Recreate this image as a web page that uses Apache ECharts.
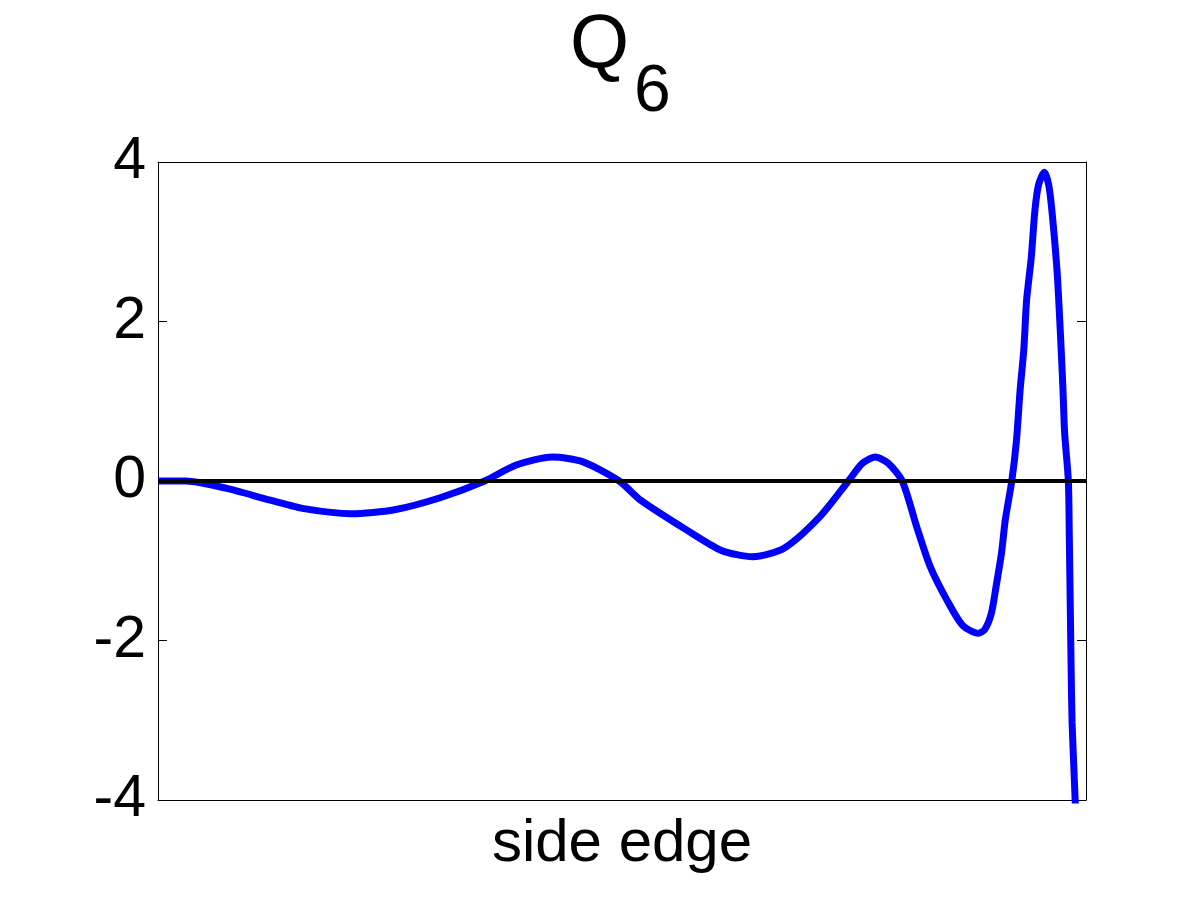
<!DOCTYPE html>
<html>
<head>
<meta charset="utf-8">
<script src="https://cdn.jsdelivr.net/npm/echarts@6/dist/echarts.min.js"></script>
<style>html,body{margin:0;padding:0;background:#fff;}#c{width:1200px;height:900px;}</style>
</head>
<body>
<div id="c"></div>
<script>
// position along the side edge (0..1)
const positions = [0, 0.030, 0.073, 0.121, 0.159, 0.208, 0.255, 0.304, 0.352, 0.386, 0.425, 0.458, 0.497, 0.520, 0.569, 0.607, 0.641, 0.675, 0.713, 0.744, 0.759, 0.773, 0.787, 0.802, 0.818, 0.832, 0.850, 0.867, 0.884, 0.891, 0.898, 0.903, 0.909, 0.913, 0.920, 0.925, 0.929, 0.933, 0.936, 0.941, 0.945, 0.949, 0.955, 0.960, 0.964, 0.969, 0.972, 0.975, 0.977, 0.981, 0.982, 0.983, 0.984, 0.985, 0.987, 0.989];
// Q6 values
const q6Values = [0, 0, -0.09, -0.24, -0.35, -0.41, -0.36, -0.21, 0, 0.20, 0.30, 0.24, 0, -0.24, -0.61, -0.87, -0.95, -0.84, -0.45, 0, 0.22, 0.30, 0.22, 0, -0.59, -1.07, -1.49, -1.81, -1.91, -1.86, -1.66, -1.33, -0.90, -0.49, 0, 0.50, 1.14, 1.65, 2.27, 2.80, 3.40, 3.72, 3.87, 3.70, 3.30, 2.60, 1.95, 1.20, 0.60, 0, -0.70, -1.53, -2.37, -3.03, -3.62, -4.20];
const yTicks = [-4, -2, 0, 2, 4];
const zeroLine = [[0, 0], [1, 0]];
const titleMain = 'Q';
const titleSub = '6';
const xLabel = 'side edge';

const data = positions.map((p, i) => [p, q6Values[i]]);
const font = 'Liberation Sans, Arial, sans-serif';

const chart = echarts.init(document.getElementById('c'));
chart.setOption({
  animation: false,
  backgroundColor: '#fff',
  grid: { left: 158, right: 114, top: 162, bottom: 100 },
  xAxis: [{
    type: 'value', min: 0, max: 1, position: 'bottom',
    axisLine: { show: true, onZero: false, lineStyle: { color: '#000', width: 1 } },
    axisTick: { show: false }, axisLabel: { show: false }, splitLine: { show: false },
    name: xLabel, nameLocation: 'middle', nameGap: 14,
    nameTextStyle: { fontSize: 60, fontFamily: font, color: '#000', verticalAlign: 'top' }
  }, {
    type: 'value', min: 0, max: 1, position: 'top',
    axisLine: { show: true, onZero: false, lineStyle: { color: '#000', width: 1 } },
    axisTick: { show: false }, axisLabel: { show: false }, splitLine: { show: false }
  }],
  yAxis: [{
    type: 'value', min: yTicks[0], max: yTicks[yTicks.length - 1], interval: 2, position: 'left',
    axisLine: { show: true, onZero: false, lineStyle: { color: '#000', width: 1 } },
    axisTick: { show: true, inside: true, length: 9, lineStyle: { color: '#000', width: 1 } },
    axisLabel: { fontSize: 59, fontFamily: font, color: '#000', margin: 12,
      formatter: v => yTicks.includes(v) ? String(v) : '' },
    splitLine: { show: false }
  }, {
    type: 'value', min: yTicks[0], max: yTicks[yTicks.length - 1], interval: 2, position: 'right',
    axisLine: { show: true, onZero: false, lineStyle: { color: '#000', width: 1 } },
    axisTick: { show: true, inside: true, length: 9, lineStyle: { color: '#000', width: 1 } },
    axisLabel: { show: false }, splitLine: { show: false }
  }],
  series: [{
    type: 'line', data: data, xAxisIndex: 0, yAxisIndex: 0,
    symbol: 'none', smooth: 0.25, clip: true,
    lineStyle: { color: '#0000ff', width: 7 },
    z: 3
  }, {
    type: 'line', data: zeroLine, xAxisIndex: 0, yAxisIndex: 0,
    symbol: 'none', silent: true,
    lineStyle: { color: '#000', width: 4 },
    z: 4
  }],
  graphic: [
    { type: 'text', left: 570, top: 8, style: { text: titleMain, font: '76px ' + font, fill: '#000' } },
    { type: 'text', left: 634, top: 60, style: { text: titleSub, font: '66px ' + font, fill: '#000' } }
  ]
});
</script>
</body>
</html>
